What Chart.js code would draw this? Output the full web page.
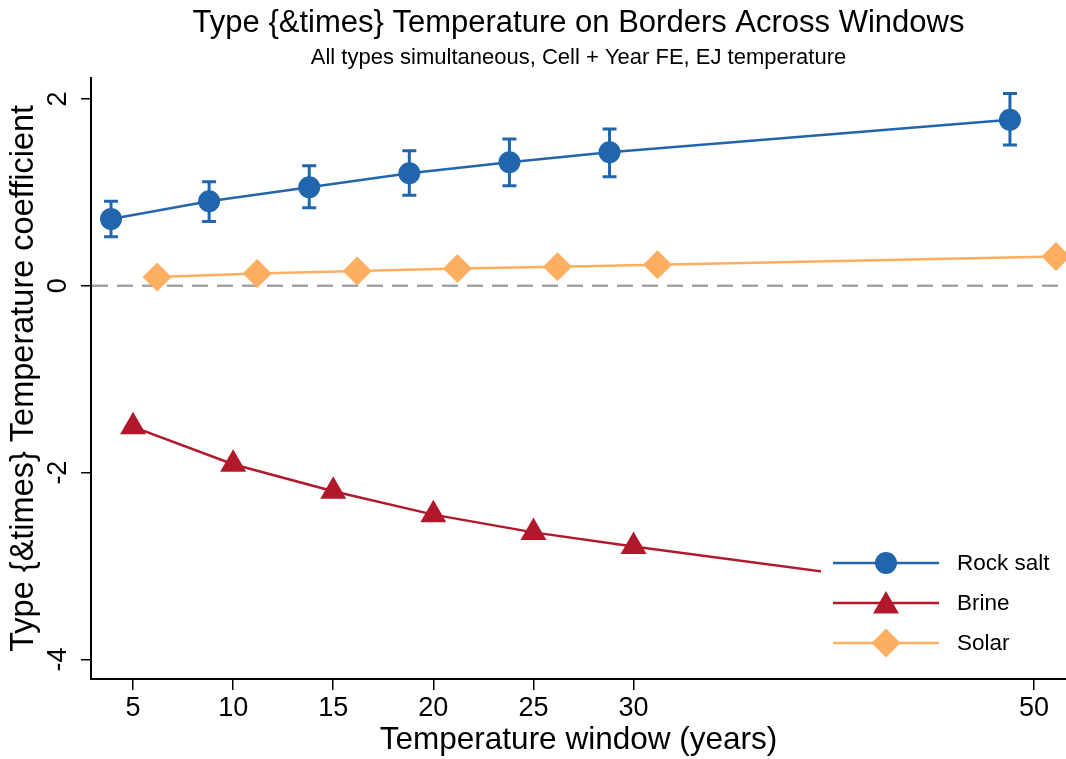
<!DOCTYPE html>
<html lang="en">
<head>
  <meta charset="UTF-8">
  <title>Type x Temperature on Borders</title>
  <script src="https://cdn.jsdelivr.net/npm/chart.js"></script>
  <style>
    body {
      margin: 0;
      background: #fff;
      overflow: hidden;
    }
    #wrap {
      width: 1066px;
      height: 759px;
    }
  </style>
</head>
<body>
  <div id="wrap"><canvas id="chart" width="1066" height="759"></canvas></div>

  <script>
    // values
    const rockWindows = [3.9, 8.8, 13.8, 18.8, 23.8, 28.8, 48.8];
    const rockSalt = [0.715, 0.905, 1.055, 1.205, 1.323, 1.43, 1.779];
    const rockLow = [0.525, 0.69, 0.836, 0.969, 1.072, 1.168, 1.508];
    const rockHigh = [0.905, 1.115, 1.286, 1.447, 1.572, 1.68, 2.06];

    const brineWindows = [5, 10, 15, 20, 25, 30, 50];
    const brine = [-1.51, -1.91, -2.2, -2.45, -2.64, -2.79, -3.36];

    const solarWindows = [6.2, 11.2, 16.2, 21.2, 26.2, 31.2, 51.1];
    const solar = [0.096, 0.133, 0.158, 0.186, 0.204, 0.225, 0.315];

    const xTicks = [5, 10, 15, 20, 25, 30, 50];
    const yTicks = [-4, -2, 0, 2];

    const BLUE = '#2166ac';
    const RED = '#b2182b';
    const ORANGE = '#fdae61';
    const FONT = "'Liberation Sans', Arial, sans-serif";

    const pairs = (xs, ys) => xs.map((x, i) => ({ x: x, y: ys[i] }));

    function drawMarker(ctx, style, x, y, r, color) {
      ctx.fillStyle = color;
      ctx.beginPath();
      if (style === 'circle') {
        ctx.arc(x, y, r, 0, Math.PI * 2);
      } else if (style === 'triangle') {
        ctx.moveTo(x, y - r);
        ctx.lineTo(x + r * 0.866, y + r * 0.5);
        ctx.lineTo(x - r * 0.866, y + r * 0.5);
        ctx.closePath();
      } else {
        ctx.moveTo(x, y - r);
        ctx.lineTo(x + r, y);
        ctx.lineTo(x, y + r);
        ctx.lineTo(x - r, y);
        ctx.closePath();
      }
      ctx.fill();
    }

    const extras = {
      id: 'extras',
      beforeDatasetsDraw(chart) {
        const { ctx, chartArea: a, scales: { x, y } } = chart;
        ctx.save();
        // zero reference line
        const y0 = y.getPixelForValue(0);
        ctx.strokeStyle = '#a3a3a3';
        ctx.lineWidth = 2.5;
        ctx.setLineDash([16, 9]);
        ctx.beginPath();
        ctx.moveTo(a.left + 1, y0);
        ctx.lineTo(a.right, y0);
        ctx.stroke();
        ctx.setLineDash([]);

        // rock salt confidence bars
        ctx.strokeStyle = BLUE;
        ctx.lineWidth = 3;
        rockWindows.forEach((w, i) => {
          const px = x.getPixelForValue(w);
          const lo = y.getPixelForValue(rockLow[i]);
          const hi = y.getPixelForValue(rockHigh[i]);
          ctx.beginPath();
          ctx.moveTo(px, lo); ctx.lineTo(px, hi);
          ctx.moveTo(px - 7, lo); ctx.lineTo(px + 7, lo);
          ctx.moveTo(px - 7, hi); ctx.lineTo(px + 7, hi);
          ctx.stroke();
        });
        ctx.restore();
      },
      afterDatasetsDraw(chart) {
        const { ctx } = chart;
        ctx.save();
        // legend sits on a white box inside the plot
        ctx.fillStyle = '#fff';
        ctx.fillRect(821, 538, 245, 131);
        const items = [
          ['Rock salt', BLUE, 'circle', 11],
          ['Brine', RED, 'triangle', 15],
          ['Solar', ORANGE, 'diamond', 14.5]
        ];
        items.forEach((it, i) => {
          const ly = 563 + i * 40;
          ctx.strokeStyle = it[1];
          ctx.lineWidth = 2.5;
          ctx.beginPath();
          ctx.moveTo(833, ly); ctx.lineTo(939, ly);
          ctx.stroke();
          drawMarker(ctx, it[2], 886, it[2] === 'triangle' ? ly + 3 : ly, it[3], it[1]);
          ctx.fillStyle = '#000';
          ctx.font = '22.5px ' + FONT;
          ctx.textAlign = 'left';
          ctx.textBaseline = 'middle';
          ctx.fillText(it[0], 957, ly + 1);
        });
        ctx.restore();
      },
      afterDraw(chart) {
        // y tick labels, rotated like the original
        const { ctx, scales: { y } } = chart;
        ctx.save();
        ctx.fillStyle = '#000';
        ctx.font = '27px ' + FONT;
        ctx.textAlign = 'center';
        ctx.textBaseline = 'middle';
        yTicks.forEach(v => {
          ctx.save();
          ctx.translate(59, y.getPixelForValue(v));
          ctx.rotate(-Math.PI / 2);
          ctx.fillText(String(v), 0, 0);
          ctx.restore();
        });
        ctx.restore();
      }
    };

    document.addEventListener('DOMContentLoaded', () => {
      new Chart(document.getElementById('chart'), {
        type: 'line',
        data: {
          datasets: [{
            label: 'Rock salt',
            data: pairs(rockWindows, rockSalt),
            borderColor: BLUE,
            backgroundColor: BLUE,
            borderWidth: 2.5,
            pointStyle: 'circle',
            pointRadius: 11,
            pointBorderWidth: 0,
            clip: false
          }, {
            label: 'Brine',
            data: pairs(brineWindows, brine),
            borderColor: RED,
            backgroundColor: RED,
            borderWidth: 2.5,
            pointStyle: 'triangle',
            pointRadius: 15,
            pointBorderWidth: 0,
            clip: false
          }, {
            label: 'Solar',
            data: pairs(solarWindows, solar),
            borderColor: ORANGE,
            backgroundColor: ORANGE,
            borderWidth: 2.5,
            pointStyle: 'rectRot',
            pointRadius: 14.5,
            pointBorderWidth: 0,
            clip: false
          }]
        },
        options: {
          responsive: false,
          animation: false,
          layout: { padding: 0, autoPadding: false },
          plugins: {
            legend: { display: false },
            tooltip: { enabled: false },
            title: {
              display: true,
              fullSize: false,
              text: 'Type {&times} Temperature on Borders Across Windows',
              color: '#000',
              font: { family: FONT, size: 31, weight: 'normal' },
              padding: { top: 5, bottom: 1 }
            },
            subtitle: {
              display: true,
              fullSize: false,
              text: 'All types simultaneous, Cell + Year FE, EJ temperature',
              color: '#000',
              font: { family: FONT, size: 22, weight: 'normal' },
              padding: { top: 2, bottom: 6 }
            }
          },
          scales: {
            x: {
              type: 'linear',
              min: 2.9,
              max: 51.6,
              afterBuildTicks: s => { s.ticks = xTicks.map(v => ({ value: v })); },
              afterFit: s => { s.height = 80; },
              border: { display: true, color: '#000', width: 2 },
              grid: { drawOnChartArea: false, drawTicks: true, tickLength: 11, color: '#000', lineWidth: 1.5 },
              ticks: {
                color: '#000',
                font: { family: FONT, size: 27 },
                padding: 2,
                maxRotation: 0,
                minRotation: 0
              },
              title: {
                display: true,
                text: 'Temperature window (years)',
                color: '#000',
                font: { family: FONT, size: 31.5 },
                padding: { top: 0, bottom: 0 }
              }
            },
            y: {
              type: 'linear',
              min: -4.21,
              max: 2.23,
              afterBuildTicks: s => { s.ticks = yTicks.map(v => ({ value: v })); },
              afterFit: s => { s.width = 91; },
              border: { display: true, color: '#000', width: 2 },
              grid: { drawOnChartArea: false, drawTicks: true, tickLength: 10, color: '#000', lineWidth: 1.5 },
              ticks: { display: false },
              title: {
                display: true,
                text: 'Type {&times} Temperature coefficient',
                color: '#000',
                font: { family: FONT, size: 32.5 },
                padding: { top: 5, bottom: 0 }
              }
            }
          }
        },
        plugins: [extras]
      });
    });
  </script>
</body>
</html>
